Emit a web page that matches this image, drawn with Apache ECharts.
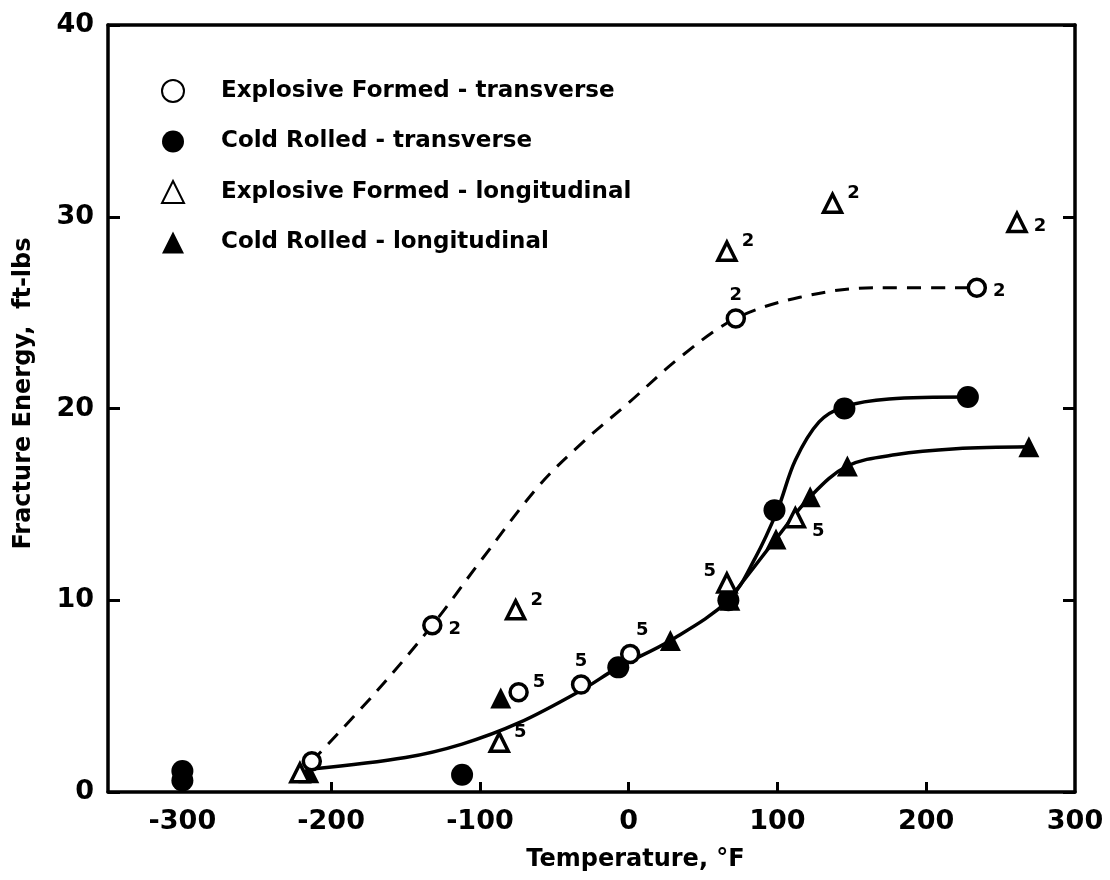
<!DOCTYPE html>
<html>
<head>
<meta charset="utf-8">
<script src="https://cdn.jsdelivr.net/npm/echarts@6/dist/echarts.min.js"></script>
<style>
  html, body { margin: 0; padding: 0; background: #fff; }
  #chart { width: 1110px; height: 880px; }
</style>
</head>
<body>
<div id="chart"></div>
<script>
// measured points (temperature °F, fracture energy ft-lbs)
var efTransverse = [[-213, 1.6], [-132, 8.7], [-74, 5.2], [-32, 5.6], [1, 7.2], [72, 24.7], [234, 26.3]]
var efTransverseNotes = ['', '2', '5', '5', '5', '2', '2']

var crTransverse = [[-300, 0.6], [-300, 1.1], [-112, 0.9], [-7, 6.5], [67, 10.0], [98, 14.7], [145, 20.0], [228, 20.6]]

var efLongitudinal = [[-221, 1.0], [-87, 2.6], [-76, 9.5], [66, 10.9], [112, 14.3], [66, 28.2], [137, 30.7], [261, 29.7]]
var efLongitudinalNotes = ['', '5', '2', '5', '5', '2', '2', '2']

var crLongitudinal = [[-215, 1.0], [-86, 4.9], [28, 7.9], [68, 10.0], [99, 13.2], [122, 15.4], [147, 17.0], [269, 18.0]]

// hand drawn fair curves
var efTransCurve = [[-213, 1.6], [-170, 5.2], [-132, 8.7], [-100, 12.0], [-60, 16.0], [-30, 18.3], [0, 20.3], [35, 22.7], [72, 24.7], [115, 25.8], [165, 26.3], [234, 26.3]]
var crTransCurve = [[-213, 1.2], [-150, 1.8], [-112, 2.5], [-74, 3.6], [-32, 5.3], [-7, 6.5], [28, 7.9], [67, 10.0], [85, 12.2], [100, 14.7], [112, 17.3], [128, 19.3], [145, 20.1], [175, 20.5], [228, 20.6]]
var crLongCurve = [[67, 10.0], [85, 11.8], [99, 13.2], [122, 15.4], [147, 17.0], [180, 17.6], [220, 17.9], [269, 18.0]]

var xLabels = [-300, -200, -100, 0, 100, 200, 300]
var xTicks = [-200, -100, 0, 100, 200]

var seriesNames = [
  'Explosive Formed - transverse',
  'Cold Rolled - transverse',
  'Explosive Formed - longitudinal',
  'Cold Rolled - longitudinal'
]

var FONT = 'DejaVu Sans'

// where the little sample-count numbers sit next to each marker
var notePlace = {
  right: { position: 'right', distance: 6, offset: [0, 4] },
  sup: { position: 'right', distance: 4, offset: [0, -10] },
  top: { position: 'top', distance: 4, offset: [0, 0] },
  topRight: { position: 'top', distance: 4, offset: [12, 0] },
  topLeft: { position: 'left', distance: 0, offset: [0, -12] },
  lowRight: { position: 'right', distance: 6, offset: [0, 14] }
}
var efTransversePlace = ['right', 'right', 'sup', 'top', 'topRight', 'top', 'right']
var efLongitudinalPlace = ['right', 'sup', 'sup', 'topLeft', 'lowRight', 'sup', 'sup', 'right']

function withNotes(points, notes, places) {
  return points.map(function (p, i) {
    var pl = notePlace[places[i]]
    return {
      value: p,
      label: {
        show: notes[i] !== '',
        formatter: notes[i],
        position: pl.position,
        distance: pl.distance,
        offset: pl.offset,
        color: '#000',
        fontFamily: FONT,
        fontWeight: 'bold',
        fontSize: 18
      }
    }
  })
}

var chart = echarts.init(document.getElementById('chart'))

var axisFont = { color: '#000', fontFamily: FONT, fontWeight: 'bold', fontSize: 27 }

var option = {
  backgroundColor: '#fff',
  animation: false,
  grid: { left: 108, right: 35, top: 25, bottom: 88 },
  legend: {
    orient: 'vertical',
    left: 156,
    top: 74,
    itemGap: 27,
    itemWidth: 22,
    itemHeight: 22,
    data: seriesNames,
    textStyle: {
      color: '#000',
      fontFamily: FONT,
      fontWeight: 'bold',
      fontSize: 23,
      padding: [0, 0, 0, 32]
    }
  },
  xAxis: [
    {
      type: 'value',
      min: -350,
      max: 300,
      interval: 50,
      name: 'Temperature, \u00B0F',
      nameLocation: 'middle',
      nameGap: 56,
      nameTextStyle: { color: '#000', fontFamily: FONT, fontWeight: 'bold', fontSize: 24, padding: [0, 0, 0, 88] },
      splitLine: { show: false },
      axisLine: { onZero: false, lineStyle: { color: '#000', width: 3.5 } },
      axisTick: { inside: true, length: 10, customValues: xTicks, lineStyle: { color: '#000', width: 3 } },
      axisLabel: Object.assign({ margin: 16, customValues: xLabels }, axisFont)
    },
    {
      type: 'value',
      position: 'top',
      min: -350,
      max: 300,
      splitLine: { show: false },
      axisLine: { onZero: false, lineStyle: { color: '#000', width: 3.5 } },
      axisTick: { show: false },
      axisLabel: { show: false }
    }
  ],
  yAxis: [
    {
      type: 'value',
      min: 0,
      max: 40,
      interval: 10,
      name: 'Fracture Energy,  ft-lbs',
      nameLocation: 'middle',
      nameGap: 72,
      nameTextStyle: { color: '#000', fontFamily: FONT, fontWeight: 'bold', fontSize: 24, padding: [0, 0, 0, 30] },
      splitLine: { show: false },
      axisLine: { onZero: false, lineStyle: { color: '#000', width: 3.5 } },
      axisTick: { inside: true, length: 12, lineStyle: { color: '#000', width: 3 } },
      axisLabel: Object.assign({ margin: 14 }, axisFont)
    },
    {
      type: 'value',
      position: 'right',
      min: 0,
      max: 40,
      interval: 10,
      splitLine: { show: false },
      axisLine: { onZero: false, lineStyle: { color: '#000', width: 3.5 } },
      axisTick: { inside: true, length: 12, lineStyle: { color: '#000', width: 3 } },
      axisLabel: { show: false }
    }
  ],
  series: [
    {
      type: 'line',
      data: efTransCurve,
      smooth: 0.35,
      showSymbol: false,
      silent: true,
      lineStyle: { color: '#000', width: 3, type: [14, 10] },
      z: 1
    },
    {
      type: 'line',
      data: crTransCurve,
      smooth: 0.35,
      showSymbol: false,
      silent: true,
      lineStyle: { color: '#000', width: 3.5 },
      z: 1
    },
    {
      type: 'line',
      data: crLongCurve,
      smooth: 0.35,
      showSymbol: false,
      silent: true,
      lineStyle: { color: '#000', width: 3.5 },
      z: 1
    },
    {
      name: seriesNames[0],
      type: 'scatter',
      symbol: 'circle',
      symbolSize: 17,
      data: withNotes(efTransverse, efTransverseNotes, efTransversePlace),
      itemStyle: { color: '#fff', borderColor: '#000', borderWidth: 3.5, opacity: 1 },
      z: 3
    },
    {
      name: seriesNames[1],
      type: 'scatter',
      symbol: 'circle',
      symbolSize: 22,
      data: crTransverse,
      itemStyle: { color: '#000', borderColor: '#000', borderWidth: 0, opacity: 1 },
      z: 2
    },
    {
      name: seriesNames[2],
      type: 'scatter',
      symbol: 'triangle',
      symbolSize: 18,
      data: withNotes(efLongitudinal, efLongitudinalNotes, efLongitudinalPlace),
      itemStyle: { color: '#fff', borderColor: '#000', borderWidth: 3.5, opacity: 1 },
      z: 3
    },
    {
      name: seriesNames[3],
      type: 'scatter',
      symbol: 'triangle',
      symbolSize: 21,
      data: crLongitudinal,
      itemStyle: { color: '#000', borderColor: '#000', borderWidth: 0, opacity: 1 },
      z: 2
    }
  ]
}

chart.setOption(option)
</script>
</body>
</html>
